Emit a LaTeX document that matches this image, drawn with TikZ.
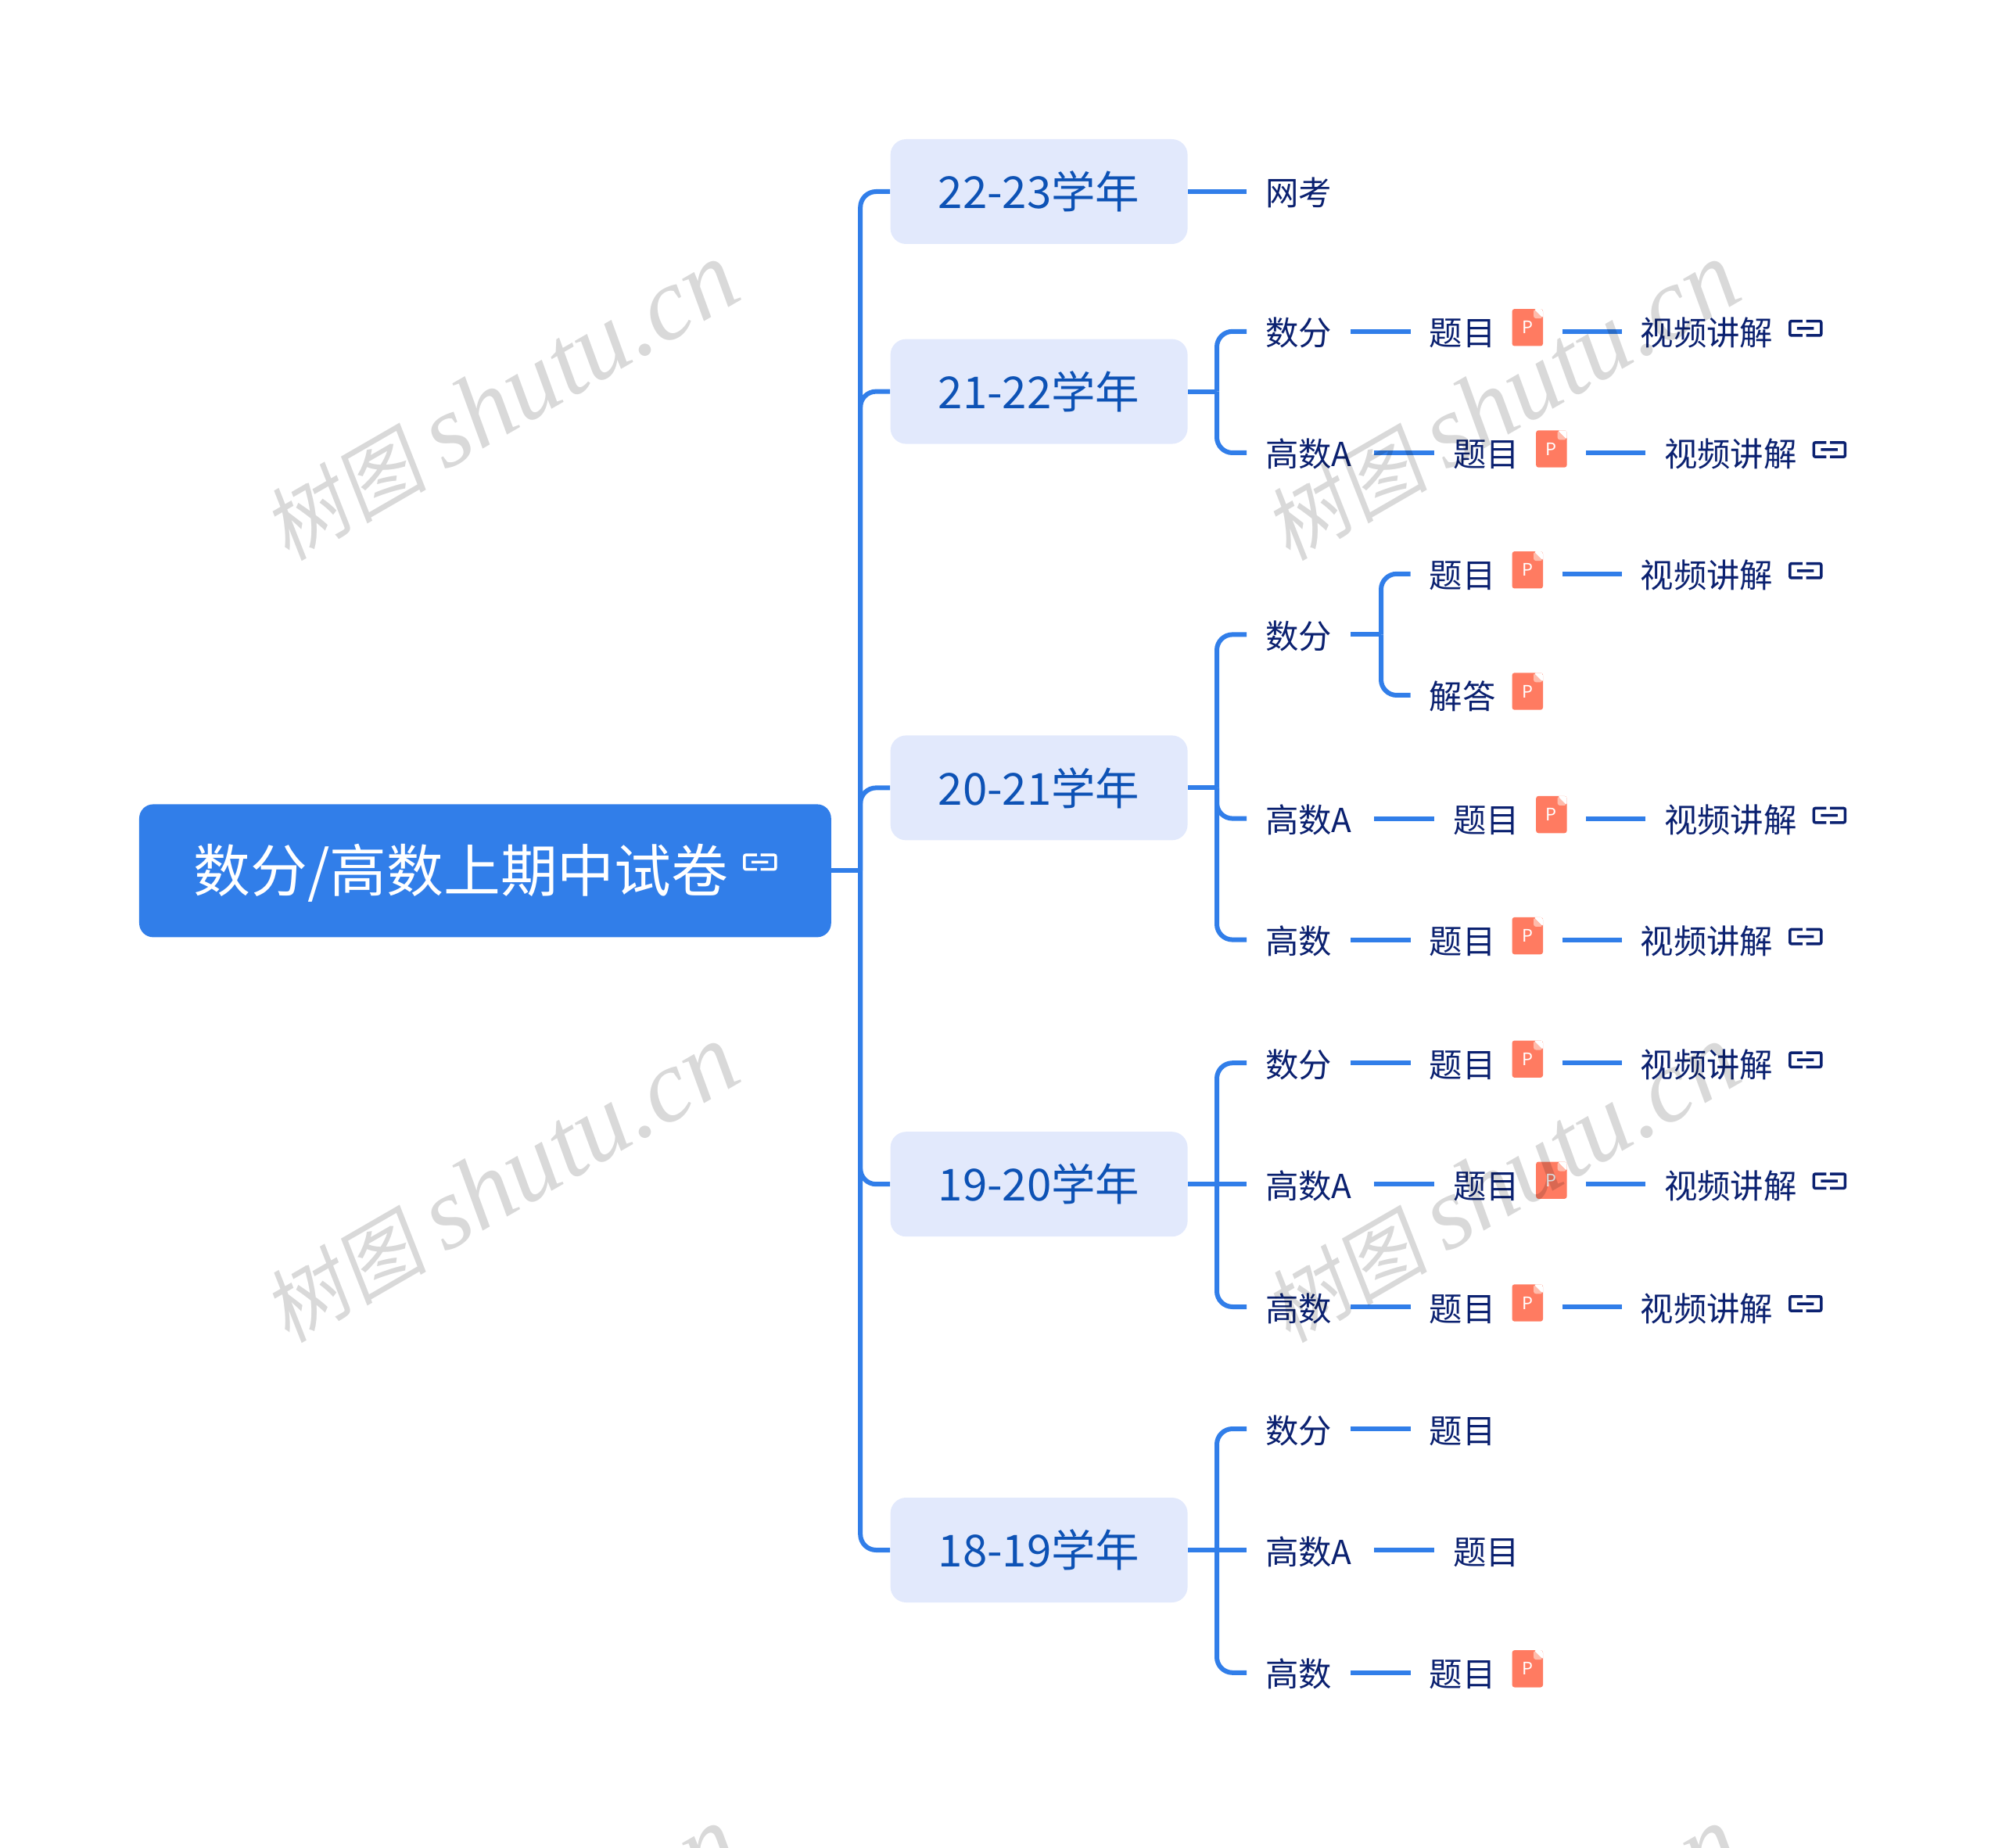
\documentclass[tikz,border=0pt]{standalone}
\usepackage{fontspec}
\setmainfont{Noto Sans CJK SC}
\newfontfamily\wmlatin{Liberation Serif}
\newfontfamily\wmcjk[FakeSlant=0.15]{Noto Sans CJK SC}
\usetikzlibrary{positioning}
\definecolor{trunkblue}{HTML}{317EE9}
\definecolor{yearfill}{HTML}{E2E9FC}
\definecolor{yeartext}{HTML}{0D52B5}
\definecolor{leaftext}{HTML}{0B2170}
\definecolor{pptred}{HTML}{FF7B61}
\definecolor{pptfold}{HTML}{FFBBAB}

\begin{document}
\begin{tikzpicture}[
  conn/.style={draw=trunkblue,line width=3pt,rounded corners=10pt},
  rootbox/.style={fill=trunkblue,text=white,rounded corners=9pt,minimum width=442.4pt,minimum height=85pt,inner sep=0pt,text height=32pt,text depth=5pt,font=\fontsize{36.4pt}{40pt}\selectfont},
  yearbox/.style={fill=yearfill,text=yeartext,rounded corners=10pt,minimum width=190pt,minimum height=67pt,inner sep=0pt,font=\fontsize{28.2pt}{30pt}\selectfont},
  leaf/.style={text=leaftext,inner xsep=11.8pt,inner ysep=0pt,text height=20pt,text depth=2pt,font=\fontsize{21.2pt}{24pt}\selectfont},
  ppt/.style={fill=pptred,text=white,rounded corners=1.5pt,minimum width=19.7pt,minimum height=23.7pt,inner sep=0pt,font=\fontsize{11pt}{12pt}\selectfont,
    path picture={
      \fill[white] (path picture bounding box.north east) -- ++(-6pt,0pt) -- ++(6pt,-6pt) -- cycle;
      \fill[pptfold] (path picture bounding box.north east) ++(-6pt,0pt) -- ++(6pt,-6pt) -- ++(-6pt,0pt) -- cycle;}},
  linkic/.style={minimum width=23pt,minimum height=13pt,inner sep=0pt,
    path picture={
      \draw[#1,line width=1.75pt,rounded corners=1pt,shift={(path picture bounding box.center)}]
        (-2pt,4.6pt) -- (-10pt,4.6pt) -- (-10pt,-4.6pt) -- (-2pt,-4.6pt)
        (0.4pt,4.6pt) -- (10pt,4.6pt) -- (10pt,-4.6pt) -- (0.4pt,-4.6pt)
        (-5.5pt,0pt) -- (5.3pt,0pt);}},
  wmark/.style={text=black,text opacity=0.15,rotate=30,inner sep=0pt}]
% page frame, measured from the centre of the root
\node (root) [rootbox] {数分/高数上期中试卷\hspace*{31pt}};
\path[use as bounding box,clip] (-310.2pt,556.7pt) rectangle (969.8pt,-624.3pt);
\node (rootk) [linkic=white,left=34pt of root.east,yshift=5.5pt] {};
% years
\node (y2021) [yearbox,right=37.5pt of root,yshift=53pt] {20-21学年};
\node (y2122) [yearbox,above=186pt of y2021] {21-22学年};
\node (y2223) [yearbox,above=60.4pt of y2122] {22-23学年};
\node (y1920) [yearbox,below=186pt of y2021] {19-20学年};
\node (y1819) [yearbox,below=166.5pt of y1920] {18-19学年};
% first column
\node (wk22) [leaf,right=37.5pt of y2223] {网考};
\node (sf21) [leaf,right=37.5pt of y2122,yshift=38.4pt] {数分};
\node (ga21) [leaf,right=37.5pt of y2122,yshift=-39.2pt] {高数A\kern2.4pt};
\node (sf20) [leaf,right=37.5pt of y2021,yshift=98pt] {数分};
\node (ga20) [leaf,right=37.5pt of y2021,yshift=-19.6pt] {高数A\kern2.4pt};
\node (gs20) [leaf,right=37.5pt of y2021,yshift=-97.1pt] {高数};
\node (sf19) [leaf,right=37.5pt of y1920,yshift=77.5pt] {数分};
\node (ga19) [leaf,right=37.5pt of y1920] {高数A\kern2.4pt};
\node (gs19) [leaf,right=37.5pt of y1920,yshift=-78.4pt] {高数};
\node (sf18) [leaf,right=37.5pt of y1819,yshift=77.5pt] {数分};
\node (ga18) [leaf,right=37.5pt of y1819] {高数A\kern2.4pt};
\node (gs18) [leaf,right=37.5pt of y1819,yshift=-78.4pt] {高数};
% 20-21 splits in two
\coordinate [right=19.6pt of sf20] (sf20j);
\node (sf20t) [leaf,right=38.4pt of sf20,yshift=38.8pt] {题目};
\node (sf20a) [leaf,right=38.4pt of sf20,yshift=-38.8pt] {解答};
\node (sf20p) [ppt,right=-1.6pt of sf20t,yshift=2.5pt] {P};
\node (sf20q) [ppt,right=-1.6pt of sf20a,yshift=2.5pt] {P};
\node (sf20v) [leaf,right=68.6pt of sf20t] {视频讲解};
\node (sf20k) [linkic=leaftext,right=-2.9pt of sf20v,yshift=2pt] {};
\draw[conn] (sf20) -- (sf20j);
\draw[conn] (sf20j) |- (sf20t);
\draw[conn] (sf20j) |- (sf20a);
\draw[conn,shorten <=12.2pt] (sf20p.east |- sf20v) -- (sf20v);
% rows with a file and a video
\foreach \hd in {sf21,ga21,ga20,gs20,sf19,ga19,gs19}{
  \node (\hd t) [leaf,right=38.4pt of \hd] {题目};
  \node (\hd p) [ppt,right=-1.6pt of \hd t,yshift=2.5pt] {P};
  \node (\hd v) [leaf,right=68.6pt of \hd t] {视频讲解};
  \node (\hd k) [linkic=leaftext,right=-2.9pt of \hd v,yshift=2pt] {};
  \draw[conn] (\hd) -- (\hd t);
  \draw[conn,shorten <=12.2pt] (\hd p.east |- \hd v) -- (\hd v);
}
% rows of the last year
\foreach \hd in {sf18,ga18,gs18}{
  \node (\hd t) [leaf,right=38.4pt of \hd] {题目};
  \draw[conn] (\hd) -- (\hd t);
}
\node (gs18p) [ppt,right=-1.6pt of gs18t,yshift=2.5pt] {P};
% trunk
\coordinate [right=18.5pt of root] (rootj);
\draw[conn] (root) -- (rootj);
\foreach \yr in {y2223,y2122,y2021,y1920,y1819}
  \draw[conn] (rootj) |- (\yr);
\draw[conn] (y2223) -- (wk22);
% branches
\foreach \yr/\kids in {y2122/{sf21,ga21},y2021/{sf20,ga20,gs20},y1920/{sf19,gs19},y1819/{sf18,gs18}}{
  \coordinate [right=18.5pt of \yr] (\yr j);
  \draw[conn] (\yr) -- (\yr j);
  \foreach \kid in \kids
    \draw[conn] (\yr j) |- (\kid);
}
\draw[conn] (y1920j) -- (ga19);
\draw[conn] (y1819j) -- (ga18);
% watermarks
\foreach \col/\wx in {a/10pt,b/650pt}
  \foreach \row/\wy in {p/300pt,q/-200pt,r/-700pt}
    \node (wm\col\row) [wmark] at (\wx,\wy) {\fontsize{52pt}{56pt}\selectfont\wmcjk 树图 \fontsize{66pt}{68pt}\selectfont\wmlatin\itshape shutu.cn};
\end{tikzpicture}
\end{document}
